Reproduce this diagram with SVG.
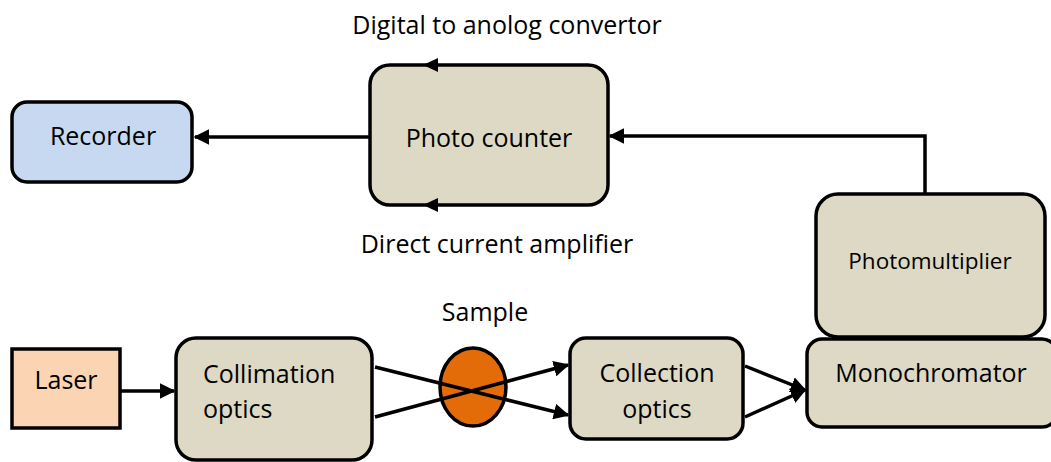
<svg xmlns="http://www.w3.org/2000/svg" width="1051" height="462" viewBox="0 0 1051 462">
  <style>
    .box { stroke: #000; stroke-width: 3.5; }
    .tan { fill: #DDD9C4; }
    .lbl { font-family: "Open Sans", "Liberation Sans", sans-serif; font-size: 25px; fill: #000; text-anchor: middle; }
    .left { text-anchor: start; }
    .small { font-size: 22.5px; }
    .wire { stroke: #000; stroke-width: 3.5; fill: none; }
  </style>
  <defs>
    <marker id="arrow" viewBox="0 0 10 10" refX="9" refY="5" markerWidth="4.5" markerHeight="4.5" orient="auto" markerUnits="strokeWidth">
      <path d="M0,0 L10,5 L0,10 Z" fill="#000"/>
    </marker>
  </defs>

  <g id="recorder">
    <rect class="box" x="12" y="102" width="180" height="80" rx="15" fill="#C6D9F1"/>
    <text class="lbl" x="103" y="145">Recorder</text>
  </g>

  <g id="photo-counter">
    <rect class="box tan" x="370" y="65" width="238" height="140" rx="20"/>
    <path d="M438,58 L423,65 L438,72 Z" fill="#000"/>
    <path d="M438,198 L423,205 L438,212 Z" fill="#000"/>
    <text class="lbl" x="489" y="147">Photo counter</text>
  </g>

  <g id="photomultiplier">
    <rect class="box tan" x="816" y="194" width="229" height="143" rx="22"/>
    <text class="lbl small" x="930" y="269">Photomultiplier</text>
  </g>

  <g id="monochromator">
    <rect class="box tan" x="807" y="339" width="250" height="88" rx="15"/>
    <text class="lbl" x="931" y="382">Monochromator</text>
  </g>

  <g id="laser">
    <rect class="box" x="12" y="349" width="108" height="79" fill="#FBD4B4"/>
    <text class="lbl" x="66" y="389">Laser</text>
  </g>

  <g id="collimation-optics">
    <rect class="box tan" x="176" y="338" width="196" height="122" rx="20"/>
    <text class="lbl left" x="203" y="383">Collimation</text>
    <text class="lbl left" x="203" y="418">optics</text>
  </g>

  <g id="sample">
    <ellipse cx="473" cy="387" rx="33" ry="39" fill="#E36C09" stroke="#000" stroke-width="3.5"/>
  </g>

  <g id="collection-optics">
    <rect class="box tan" x="570" y="338" width="173" height="101" rx="16"/>
    <text class="lbl" x="657" y="382">Collection</text>
    <text class="lbl" x="657" y="418">optics</text>
  </g>

  <g id="connectors">
    <line class="wire" x1="370" y1="137" x2="195" y2="137" marker-end="url(#arrow)"/>
    <polyline class="wire" points="925,194 925,136 610,136" marker-end="url(#arrow)"/>
    <line class="wire" x1="120" y1="391" x2="174" y2="391" marker-end="url(#arrow)"/>
    <line class="wire" x1="375" y1="367" x2="568" y2="415" marker-end="url(#arrow)"/>
    <line class="wire" x1="375" y1="417" x2="568" y2="365" marker-end="url(#arrow)"/>
    <line class="wire" x1="745" y1="366" x2="805" y2="390" marker-end="url(#arrow)"/>
    <line class="wire" x1="745" y1="417" x2="805" y2="390" marker-end="url(#arrow)"/>
  </g>

  <g id="labels">
    <text class="lbl" x="507" y="34">Digital to anolog convertor</text>
    <text class="lbl" x="497" y="253">Direct current amplifier</text>
    <text class="lbl" x="485" y="321">Sample</text>
  </g>
</svg>
